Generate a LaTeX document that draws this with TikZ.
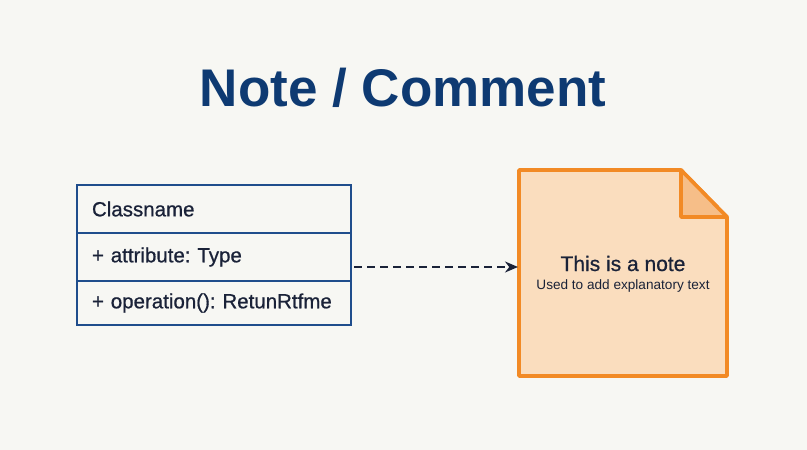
\documentclass[tikz,border=0pt]{standalone}
\usepackage{fontspec}
\setmainfont{Liberation Sans}
\newfontfamily\medfont[FakeBold=0.7]{Liberation Sans}
\usetikzlibrary{arrows.meta,calc}
\definecolor{bgc}{HTML}{F7F7F3}
\definecolor{titleblue}{HTML}{0E3A72}
\definecolor{clsblue}{HTML}{1F4D8C}
\definecolor{ink}{HTML}{1A2238}
\definecolor{noteline}{HTML}{F28A25}
\definecolor{notefill}{HTML}{FADDBE}
\definecolor{foldfill}{HTML}{F6BE88}
\frenchspacing
\tikzset{
  clsrow/.style={draw=clsblue,line width=2.6pt,minimum width=274pt,inner xsep=15pt,inner ysep=0pt,
    outer sep=0pt,text=ink,font=\medfont\fontsize{20.5}{24}\selectfont,anchor=north west,
    text width=244pt,align=left},
  conn/.style={draw=ink,line width=1.8pt,dash pattern=on 8pt off 5pt,
    -{Stealth[length=13pt,width=11pt]}},
}
\begin{document}
\begin{tikzpicture}[x=1pt,y=-1pt]
\fill[bgc] (0,0) rectangle (807,450);
\useasboundingbox (0,0) rectangle (807,450);
\node[text=titleblue,font=\bfseries\fontsize{53}{60}\selectfont,anchor=base] (title) at (403,106) {Note / Comment};
% class box
\node[clsrow,minimum height=48pt] (c1) at (77,185) {Classname};
\node[clsrow,minimum height=48pt] (c2) at (c1.south west) {+ attribute: Type};
\node[clsrow,minimum height=44pt] (c3) at (c2.south west) {+ operation(): RetunRtfme};
% note
\node[minimum width=208pt,minimum height=206pt,inner sep=0pt,outer sep=0pt,anchor=north west] (note) at (519,170) {};
\draw[noteline,line width=3.6pt,fill=notefill,line join=round]
  (note.north west) -- ($(note.north east)+(-46,0)$) -- ($(note.north east)+(0,47)$)
  -- (note.south east) -- (note.south west) -- cycle;
\draw[noteline,line width=3.6pt,fill=foldfill,line join=round]
  ($(note.north east)+(-46,0)$) -- ($(note.north east)+(-46,47)$) -- ($(note.north east)+(0,47)$) -- cycle;
\node[text=ink,font=\medfont\fontsize{21}{24}\selectfont,anchor=base] (nt) at (623,271) {This is a note};
\node[text=ink,font=\fontsize{13.6}{16}\selectfont,anchor=base] (ns) at (623,289) {Used to add explanatory text};
% connector
\coordinate (a) at ($(c2.east)+(3,10)$);
\coordinate (b) at ($(note.west |- a)+(-1,0)$);
\draw[conn] (a) -- (b);
\end{tikzpicture}
\end{document}
